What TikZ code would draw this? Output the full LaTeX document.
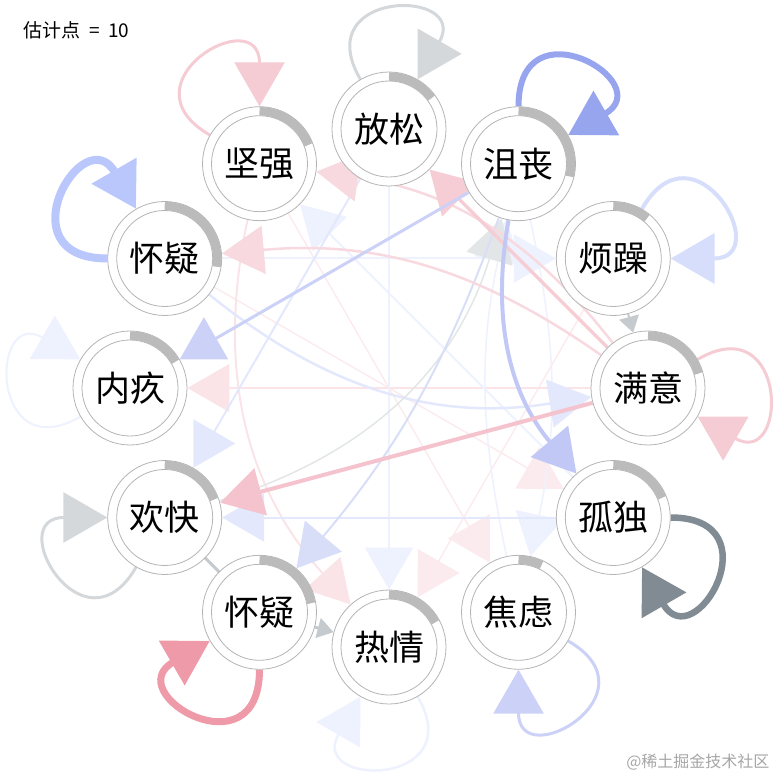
\documentclass[tikz,border=0pt]{standalone}
\usepackage{fontspec}
\setmainfont{Noto Sans CJK SC}
\usetikzlibrary{arrows.meta,calc,backgrounds}
\definecolor{ringline}{HTML}{B4B4B4}
\definecolor{ringgray}{HTML}{BBBBBB}
\definecolor{pinkA}{HTML}{F4C3CD}
\definecolor{pinkB}{HTML}{F6CDD5}
\definecolor{pinkC}{HTML}{F8D9DF}
\definecolor{pinkD}{HTML}{FBE4E8}
\definecolor{pinkE}{HTML}{FCEBEE}
\definecolor{pinkL}{HTML}{F5CBD4}
\definecolor{pinkS}{HTML}{EE9AA8}
\definecolor{blueS}{HTML}{97A4EE}
\definecolor{blueT}{HTML}{B9C7FC}
\definecolor{blueB}{HTML}{C1C8F6}
\definecolor{blueC}{HTML}{CBD1F7}
\definecolor{blueD}{HTML}{D8DEF8}
\definecolor{blueE}{HTML}{E3E8FC}
\definecolor{blueF}{HTML}{EEF1FE}
\definecolor{blueL}{HTML}{D6DEFC}
\definecolor{grayL}{HTML}{D4D8DB}
\definecolor{grayF}{HTML}{E3E6E6}
\definecolor{grayG}{HTML}{C5CACE}
\definecolor{slate}{HTML}{808B93}
\begin{document}
\begin{tikzpicture}[x=1pt, y=1pt,
  emo/.style={circle, draw=ringline, line width=0.8pt, fill=white, minimum size=114pt, inner sep=0pt,
    font=\fontsize{35}{35}\selectfont,
    path picture={\draw[ringline, line width=0.8pt] (path picture bounding box.center) circle[radius=48pt];}},
  pie/.style={ringgray, line width=8.5pt},
  link/.style={-{Triangle[length=42pt,width=48pt]}},
  stub/.style={-{Triangle[length=16pt,width=20pt]}},
  self/.style={-{Triangle[length=44pt,width=50pt]}, min distance=105pt}
]
\useasboundingbox (0,0) rectangle (778,777);

\node[anchor=west, font=\fontsize{19}{19}\selectfont] (title) at (20,747) {估计点\hspace{0.45em}=\hspace{0.45em}10};
\node[anchor=east, text=black!35, font=\fontsize{16}{16}\selectfont] (watermark) at (773,15) {@稀土掘金技术社区};

\node[emo] (relax) at (389,648) {放松};
\node[emo] (dejected) at (518.5,613.3) {沮丧};
\node[emo] (irritable) at (613.3,518.5) {烦躁};
\node[emo] (satisfied) at (648,389) {满意};
\node[emo] (lonely) at (613.3,259.5) {孤独};
\node[emo] (anxious) at (518.5,164.7) {焦虑};
\node[emo] (passion) at (389,130) {热情};
\node[emo] (doubtB) at (259.5,164.7) {怀疑};
\node[emo] (cheerful) at (164.7,259.5) {欢快};
\node[emo] (guilt) at (130,389) {内疚};
\node[emo] (doubtA) at (164.7,518.5) {怀疑};
\node[emo] (strong) at (259.5,613.3) {坚强};

% share of each node
\draw[pie] ($(relax)+(0,52.5)$) arc[start angle=90, delta angle=-54, radius=52.5];
\draw[pie] ($(dejected)+(0,52.5)$) arc[start angle=90, delta angle=-104, radius=52.5];
\draw[pie] ($(irritable)+(0,52.5)$) arc[start angle=90, delta angle=-40, radius=52.5];
\draw[pie] ($(satisfied)+(0,52.5)$) arc[start angle=90, delta angle=-74, radius=52.5];
\draw[pie] ($(lonely)+(0,52.5)$) arc[start angle=90, delta angle=-68, radius=52.5];
\draw[pie] ($(anxious)+(0,52.5)$) arc[start angle=90, delta angle=-26, radius=52.5];
\draw[pie] ($(passion)+(0,52.5)$) arc[start angle=90, delta angle=-62, radius=52.5];
\draw[pie] ($(doubtB)+(0,52.5)$) arc[start angle=90, delta angle=-80, radius=52.5];
\draw[pie] ($(cheerful)+(0,52.5)$) arc[start angle=90, delta angle=-70, radius=52.5];
\draw[pie] ($(guilt)+(0,52.5)$) arc[start angle=90, delta angle=-60, radius=52.5];
\draw[pie] ($(doubtA)+(0,52.5)$) arc[start angle=90, delta angle=-99, radius=52.5];
\draw[pie] ($(strong)+(0,52.5)$) arc[start angle=90, delta angle=-69, radius=52.5];

\begin{scope}[on background layer]
% loops
\draw[self, grayL, line width=3pt] (relax) to[out=120, in=60] (relax);
\draw[self, blueS, line width=6pt] (dejected) to[out=90, in=30] (dejected);
\draw[self, blueL, line width=4pt] (irritable) to[out=60, in=0] (irritable);
\draw[self, pinkL, line width=3pt] (satisfied) to[out=30, in=-30] (satisfied);
\draw[self, slate, line width=6.5pt] (lonely) to[out=0, in=-60] (lonely);
\draw[self, blueC, line width=3pt] (anxious) to[out=-30, in=-90] (anxious);
\draw[self, blueF, line width=2.5pt] (passion) to[out=-60, in=-120] (passion);
\draw[self, pinkS, line width=7pt] (doubtB) to[out=-90, in=-150] (doubtB);
\draw[self, grayL, line width=3pt] (cheerful) to[out=-120, in=180] (cheerful);
\draw[self, blueF, line width=2pt] (guilt) to[out=-150, in=150] (guilt);
\draw[self, blueT, line width=8pt] (doubtA) to[out=180, in=120] (doubtA);
\draw[self, pinkL, line width=3pt] (strong) to[out=150, in=90] (strong);

% faint links first
\draw[link, pinkE, line width=1.5pt] (strong) -- (anxious);
\draw[link, pinkE, line width=1.5pt] (irritable) -- (passion);
\draw[link, pinkE, line width=1.5pt] (doubtA) -- (lonely);
\draw[link, pinkD, line width=1.5pt] (satisfied) -- (guilt);
\draw[link, pinkD, line width=2pt] (strong) to[bend right=27] (passion);
\draw[link, blueF, line width=2pt] (relax) -- (passion);
\draw[link, blueF, line width=2pt] (lonely) -- (strong);
\draw[link, blueF, line width=2pt] (doubtA) -- (irritable);
\draw[link, blueF, line width=1.5pt] (dejected) to[bend left=12] (anxious);
\draw[link, blueF, line width=1.5pt] (anxious) to[bend left=12] (dejected);
\draw[link, blueE, line width=2pt] (lonely) -- (cheerful);
\draw[link, blueE, line width=2pt] (relax) -- (cheerful);
\draw[link, blueE, line width=2.5pt] (doubtA) to[bend right=24] (satisfied);
\draw[link, grayF, line width=1.5pt] (cheerful) to[bend right=28] (dejected);
\draw[link, blueD, line width=2pt] (dejected) to[bend left=10] (doubtB);

% stronger links
\draw[link, pinkC, line width=2.5pt] (satisfied) to[bend right=22] (strong);
\draw[link, pinkC, line width=2.5pt] (satisfied) to[bend right=20] (doubtA);
\draw[link, pinkB, line width=3.5pt] (satisfied) -- (relax);
\draw[link, blueC, line width=3pt] (dejected) -- (guilt);
\draw[link, blueB, line width=4pt] (dejected) to[bend right=25] (lonely);
\draw[link, pinkA, line width=4pt] (satisfied) -- (cheerful);

% neighbours
\draw[stub, grayG, line width=3pt] (doubtB) -- (passion);
\draw[grayG, line width=3pt] (cheerful) -- (doubtB);
\draw[stub, grayG, line width=2pt] (irritable) -- (satisfied);
\end{scope}
\end{tikzpicture}
\end{document}
